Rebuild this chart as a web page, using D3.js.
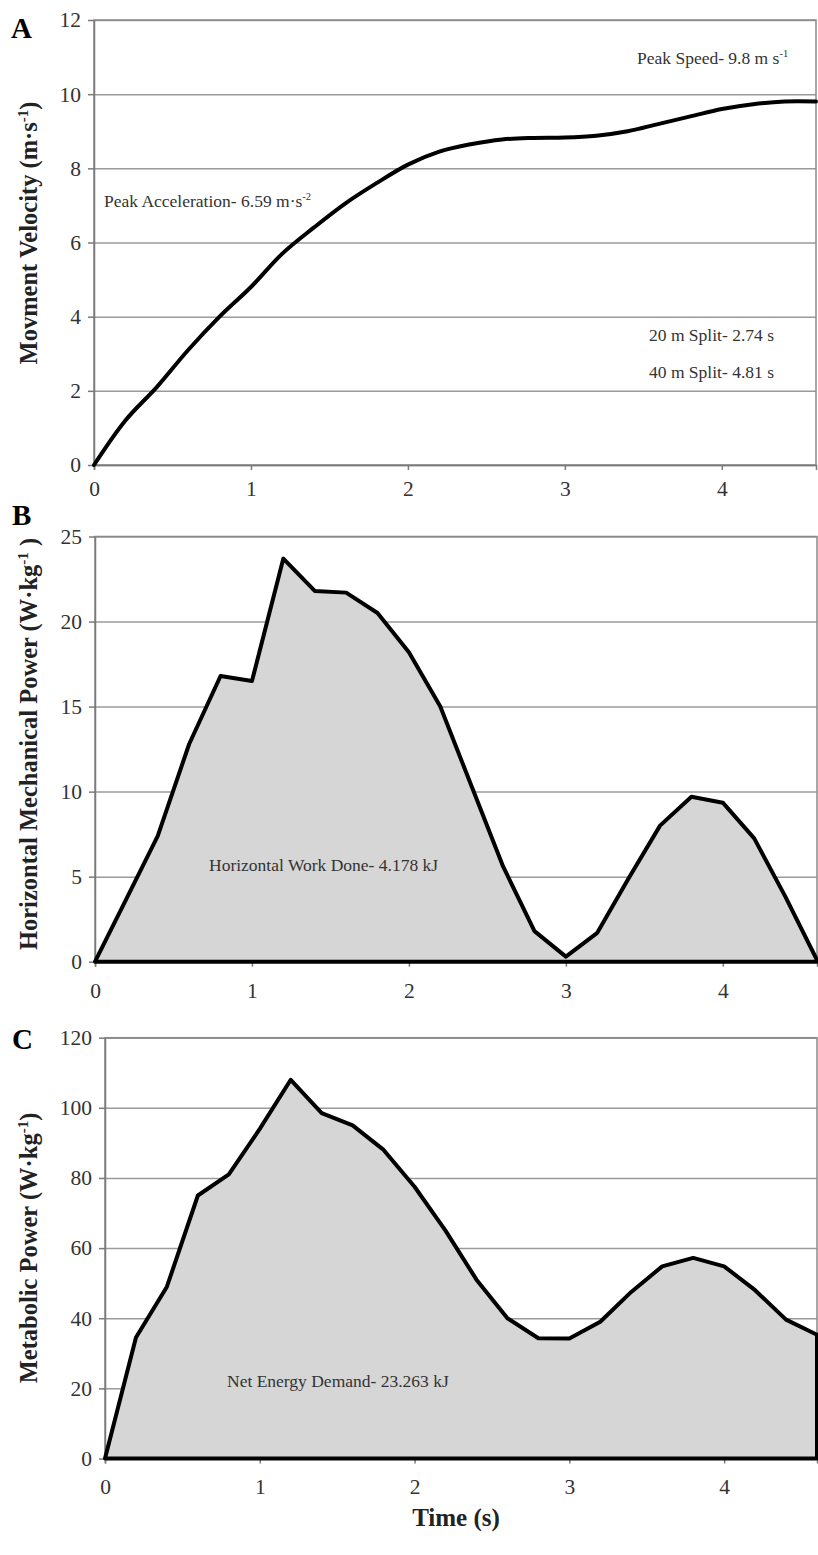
<!DOCTYPE html>
<html>
<head>
<meta charset="utf-8">
<script src="https://cdn.jsdelivr.net/npm/d3@7"></script>
<style>
  body { margin: 0; background: #fff; }
  svg { display: block; }
  text { font-family: "Liberation Serif", "Times New Roman", serif; }
</style>
</head>
<body>
<div id="chart"></div>
<script>
// time points (s)
var times = [0, 0.2, 0.4, 0.6, 0.8, 1.0, 1.2, 1.4, 1.6, 1.8, 2.0, 2.2,
             2.4, 2.6, 2.8, 3.0, 3.2, 3.4, 3.6, 3.8, 4.0, 4.2, 4.4, 4.6];

// A - movement velocity (m/s)
var velocity = [0, 1.2, 2.1, 3.1, 4.0, 4.8, 5.7, 6.4, 7.05, 7.6, 8.1, 8.45,
                8.65, 8.78, 8.82, 8.83, 8.88, 9.0, 9.2, 9.4, 9.6, 9.73, 9.8, 9.8];

// B - horizontal mechanical power (W/kg)
var mechPower = [0, 3.7, 7.4, 12.8, 16.8, 16.5, 23.7, 21.8, 21.7, 20.5, 18.2, 15.0,
                 10.3, 5.6, 1.8, 0.3, 1.7, 4.9, 8.0, 9.7, 9.35, 7.25, 3.8, 0.1];

// C - metabolic power (W/kg)
var metPower = [0, 34.5, 49, 75, 81, 94, 108, 98.5, 95, 88, 77.5, 65,
                51, 40, 34.3, 34.2, 39, 47.5, 54.8, 57.2, 54.8, 48, 39.6, 35.3];

var xTicks = [0, 1, 2, 3, 4];
var yTicksA = [0, 2, 4, 6, 8, 10, 12];
var yTicksB = [0, 5, 10, 15, 20, 25];
var yTicksC = [0, 20, 40, 60, 80, 100, 120];

var W = 818, H = 1555;

var svg = d3.select("#chart")
    .append("svg")
    .attr("width", W)
    .attr("height", H);

// draws one panel, returns the scales
function panel(opt) {
    var x = d3.scaleLinear().domain([0, 4.6]).range([opt.left, opt.right]);
    var y = d3.scaleLinear().domain(opt.yDomain).range([opt.bottom, opt.top]);
    var g = svg.append("g");

    // gridlines
    g.append("g")
        .attr("transform", `translate(${opt.left},0)`)
        .call(d3.axisLeft(y).tickValues(opt.yTicks).tickSize(-(opt.right - opt.left)).tickFormat(""))
        .call(s => s.select(".domain").remove())
        .selectAll("line")
        .attr("stroke", "#9a9a9a")
        .attr("stroke-width", 1.5);

    // frame
    g.append("rect")
        .attr("x", opt.left).attr("y", opt.top)
        .attr("width", opt.right - opt.left).attr("height", opt.bottom - opt.top)
        .attr("fill", "none")
        .attr("stroke", "#8a8a8a")
        .attr("stroke-width", 1.5);

    var data = times.map((t, i) => ({ t: t, v: opt.values[i] }));

    if (opt.area) {
        g.append("path")
            .datum(data)
            .attr("d", d3.area().x(d => x(d.t)).y0(y(0)).y1(d => y(d.v)))
            .attr("fill", "#d6d6d6")
            .attr("stroke", "none");
    }

    // axes
    var ax = g.append("g")
        .attr("transform", `translate(0,${opt.bottom})`)
        .call(d3.axisBottom(x).tickValues(xTicks).tickSize(5).tickPadding(opt.xPad).tickFormat(d3.format("d")));
    var ay = g.append("g")
        .attr("transform", `translate(${opt.left},0)`)
        .call(d3.axisLeft(y).tickValues(opt.yTicks).tickSize(6).tickSizeOuter(0).tickPadding(7));
    [ax, ay].forEach(a => {
        a.select(".domain").attr("stroke", "#7a7a7a").attr("stroke-width", 1.5);
        a.selectAll(".tick line").attr("stroke", "#7a7a7a").attr("stroke-width", 1.5);
        a.selectAll(".tick text")
            .attr("font-family", "Liberation Serif, serif")
            .attr("font-size", 21.5)
            .attr("fill", "#333");
    });

    if (opt.area) {
        g.append("path")
            .datum(data)
            .attr("d", d3.area().x(d => x(d.t)).y0(y(0)).y1(d => y(d.v)))
            .attr("fill", "none")
            .attr("stroke", "#000")
            .attr("stroke-width", 4)
            .attr("stroke-linejoin", "round");
    } else {
        g.append("path")
            .datum(data)
            .attr("d", d3.line().x(d => x(d.t)).y(d => y(d.v)).curve(d3.curveCatmullRom))
            .attr("fill", "none")
            .attr("stroke", "#000")
            .attr("stroke-width", 4)
            .attr("stroke-linecap", "round");
    }

    // panel letter
    g.append("text")
        .attr("x", opt.letterX).attr("y", opt.letterY)
        .attr("font-size", 29)
        .attr("font-weight", "bold")
        .text(opt.letter);

    // y title (rotated), with superscript
    var t = g.append("text")
        .attr("transform", `translate(37,${opt.titleY}) rotate(-90)`)
        .attr("text-anchor", "middle")
        .attr("font-size", 24.5)
        .attr("font-weight", "bold")
        .attr("fill", "#222");
    t.append("tspan").text(opt.title[0]);
    t.append("tspan").attr("dy", -9).attr("font-size", 15).text(opt.title[1]);
    t.append("tspan").attr("dy", 9).text(opt.title[2]);

    return { x: x, y: y, g: g };
}

function note(g, x, y, parts) {
    var t = g.append("text")
        .attr("x", x).attr("y", y)
        .attr("font-size", 17.5)
        .attr("fill", "#333");
    t.append("tspan").text(parts[0]);
    if (parts.length > 1) {
        t.append("tspan").attr("dy", -7).attr("font-size", 10.5).text(parts[1]);
    }
}

var A = panel({
    left: 94, right: 816, top: 20, bottom: 465,
    yDomain: [0, 12], yTicks: yTicksA, values: velocity, area: false,
    xPad: 11, letter: "A", letterX: 11, letterY: 38,
    titleY: 233, title: ["Movment Velocity (m·s", "-1", ")"]
});
note(A.g, 637, 64, ["Peak Speed- 9.8 m s", "-1"]);
note(A.g, 104, 207, ["Peak Acceleration- 6.59 m·s", "-2"]);
note(A.g, 649, 341, ["20 m Split- 2.74 s"]);
note(A.g, 649, 378, ["40 m Split- 4.81 s"]);

var B = panel({
    left: 95, right: 817, top: 536.5, bottom: 961.7,
    yDomain: [0, 25], yTicks: yTicksB, values: mechPower, area: true,
    xPad: 16, letter: "B", letterX: 12, letterY: 525,
    titleY: 744, title: ["Horizontal Mechanical Power (W·kg", "-1", " )"]
});
note(B.g, 209, 871, ["Horizontal Work Done- 4.178 kJ"]);

var C = panel({
    left: 105, right: 817, top: 1037.7, bottom: 1458.5,
    yDomain: [0, 120], yTicks: yTicksC, values: metPower, area: true,
    xPad: 15, letter: "C", letterX: 12, letterY: 1049,
    titleY: 1248, title: ["Metabolic Power (W·kg", "-1", ")"]
});
note(C.g, 227, 1387, ["Net Energy Demand- 23.263 kJ"]);

svg.append("text")
    .attr("x", 456).attr("y", 1526)
    .attr("text-anchor", "middle")
    .attr("font-size", 25)
    .attr("font-weight", "bold")
    .attr("fill", "#222")
    .text("Time (s)");
</script>
</body>
</html>
